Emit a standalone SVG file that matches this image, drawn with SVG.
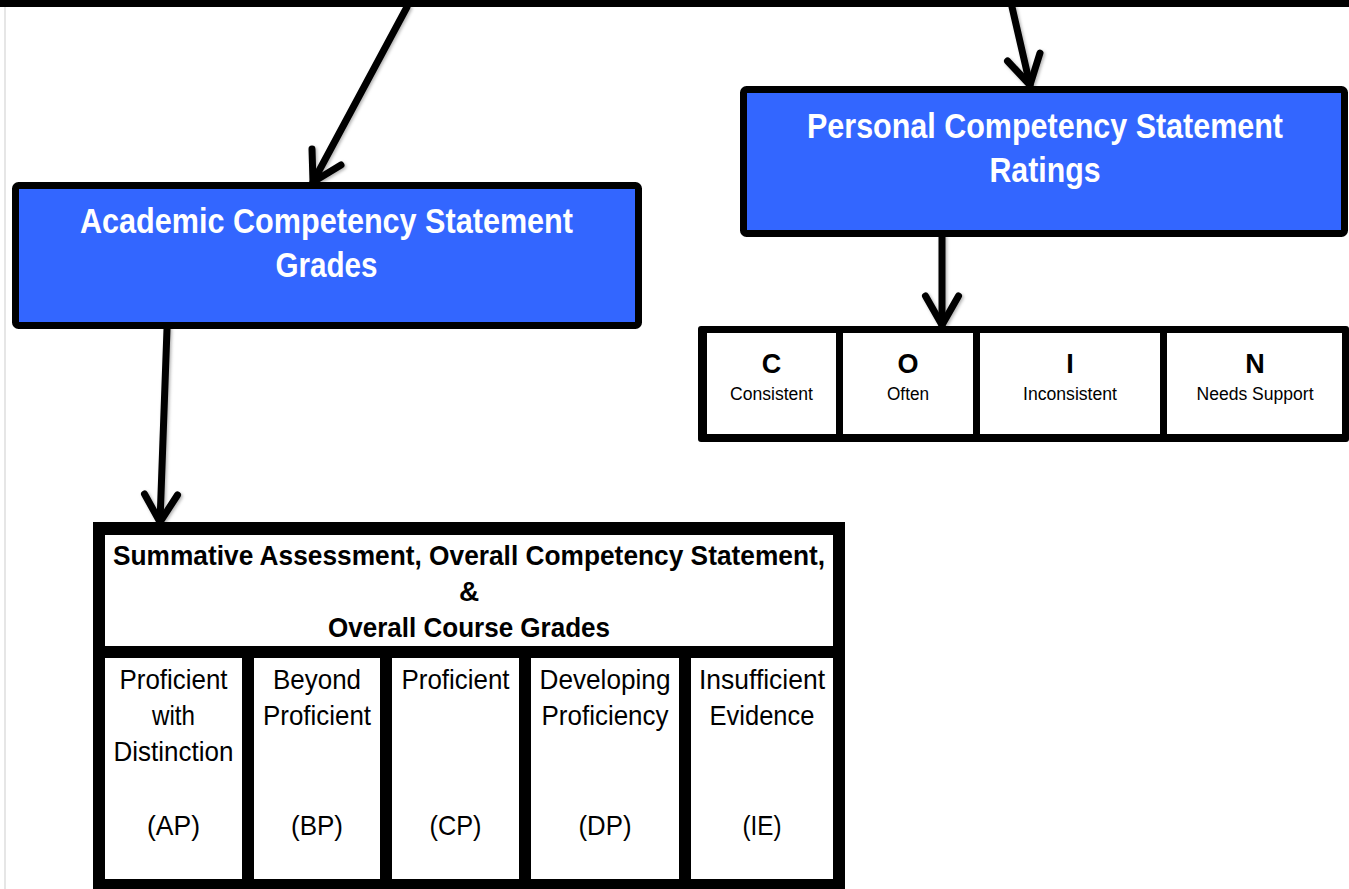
<svg xmlns="http://www.w3.org/2000/svg" width="1349" height="889" viewBox="0 0 1349 889">
<defs>
<style>
.t{font-family:"Liberation Sans",Arial,sans-serif;text-anchor:middle}
.ttl{font-size:35px;font-weight:bold;fill:#fff}
.hdr{font-size:28px;font-weight:bold;fill:#000}
.cell{font-size:28px;fill:#000}
.let{font-size:27px;font-weight:bold;fill:#000}
.sub{font-size:18px;fill:#000}
.blue{fill:#3366ff;stroke:#000;stroke-width:7}
.arr{fill:none;stroke:#000;stroke-width:7;stroke-linecap:round;stroke-linejoin:round}
</style>
<filter id="sh" x="-20%" y="-20%" width="140%" height="140%">
<feDropShadow dx="1.5" dy="1.5" stdDeviation="1.5" flood-color="#000" flood-opacity="0.3"/>
</filter>
</defs>
<rect width="1349" height="889" fill="#fff"/>
<line x1="5" y1="7" x2="5" y2="889" stroke="#e6e6e6" stroke-width="2"/>
<rect x="0" y="0" width="1349" height="7" fill="#000"/>

<g id="connectors" filter="url(#sh)">
<path class="arr" d="M407,7 L313,182"/>
<path class="arr" d="M312,149 L313,182 L341,165"/>
<path class="arr" d="M1012,7 L1030,85"/>
<path class="arr" d="M1007.5,61 L1030,85 L1040,53"/>
<path class="arr" d="M942,237 L942,325"/>
<path class="arr" d="M925.5,296 L942,325 L958.5,296"/>
<path class="arr" d="M167,329 L160,522"/>
<path class="arr" d="M144.5,494 L160,522 L177.5,495"/>
</g>

<g id="academic">
<rect class="blue" x="15.5" y="185.5" width="623" height="140" rx="3"/>
<text class="t ttl" x="326.5" y="233" textLength="493" lengthAdjust="spacingAndGlyphs">Academic Competency Statement</text>
<text class="t ttl" x="326.5" y="277" textLength="102" lengthAdjust="spacingAndGlyphs">Grades</text>
</g>

<g id="personal">
<rect class="blue" x="743.5" y="89.5" width="601" height="144" rx="3"/>
<text class="t ttl" x="1045" y="138" textLength="476" lengthAdjust="spacingAndGlyphs">Personal Competency Statement</text>
<text class="t ttl" x="1045" y="182" textLength="111" lengthAdjust="spacingAndGlyphs">Ratings</text>
</g>

<g id="ratings">
<rect x="698" y="326" width="651" height="116" rx="3" fill="#000"/>
<rect x="707" y="333" width="129" height="101" fill="#fff"/>
<rect x="843" y="333" width="130" height="101" fill="#fff"/>
<rect x="980" y="333" width="180" height="101" fill="#fff"/>
<rect x="1167" y="333" width="175" height="101" fill="#fff"/>
<text class="t let" x="771.5" y="373">C</text>
<text class="t sub" x="771.5" y="400" textLength="83" lengthAdjust="spacingAndGlyphs">Consistent</text>
<text class="t let" x="908" y="373">O</text>
<text class="t sub" x="908" y="400" textLength="42" lengthAdjust="spacingAndGlyphs">Often</text>
<text class="t let" x="1070" y="373">I</text>
<text class="t sub" x="1070" y="400" textLength="94" lengthAdjust="spacingAndGlyphs">Inconsistent</text>
<text class="t let" x="1255" y="373">N</text>
<text class="t sub" x="1255" y="400" textLength="117" lengthAdjust="spacingAndGlyphs">Needs Support</text>
</g>

<g id="grades">
<rect x="93" y="522" width="752" height="380" fill="#000"/>
<rect x="105" y="535" width="728" height="111" fill="#fff"/>
<rect x="105" y="658" width="137" height="221" fill="#fff"/>
<rect x="254" y="658" width="126" height="221" fill="#fff"/>
<rect x="392" y="658" width="127" height="221" fill="#fff"/>
<rect x="531" y="658" width="148" height="221" fill="#fff"/>
<rect x="691" y="658" width="142" height="221" fill="#fff"/>
<text class="t hdr" x="469" y="565" textLength="712" lengthAdjust="spacingAndGlyphs">Summative Assessment, Overall Competency Statement,</text>
<text class="t hdr" x="469" y="601">&amp;</text>
<text class="t hdr" x="469" y="637" textLength="282" lengthAdjust="spacingAndGlyphs">Overall Course Grades</text>

<text class="t cell" x="173.5" y="689" textLength="108" lengthAdjust="spacingAndGlyphs">Proficient</text>
<text class="t cell" x="173.5" y="725" textLength="43" lengthAdjust="spacingAndGlyphs">with</text>
<text class="t cell" x="173.5" y="761" textLength="120" lengthAdjust="spacingAndGlyphs">Distinction</text>
<text class="t cell" x="173.5" y="835" textLength="53" lengthAdjust="spacingAndGlyphs">(AP)</text>

<text class="t cell" x="317" y="689" textLength="88" lengthAdjust="spacingAndGlyphs">Beyond</text>
<text class="t cell" x="317" y="725" textLength="108" lengthAdjust="spacingAndGlyphs">Proficient</text>
<text class="t cell" x="317" y="835" textLength="52" lengthAdjust="spacingAndGlyphs">(BP)</text>

<text class="t cell" x="455.5" y="689" textLength="108" lengthAdjust="spacingAndGlyphs">Proficient</text>
<text class="t cell" x="455.5" y="835" textLength="52" lengthAdjust="spacingAndGlyphs">(CP)</text>

<text class="t cell" x="605" y="689" textLength="131" lengthAdjust="spacingAndGlyphs">Developing</text>
<text class="t cell" x="605" y="725" textLength="127" lengthAdjust="spacingAndGlyphs">Proficiency</text>
<text class="t cell" x="605" y="835" textLength="53" lengthAdjust="spacingAndGlyphs">(DP)</text>

<text class="t cell" x="762" y="689" textLength="126" lengthAdjust="spacingAndGlyphs">Insufficient</text>
<text class="t cell" x="762" y="725" textLength="105" lengthAdjust="spacingAndGlyphs">Evidence</text>
<text class="t cell" x="762" y="835" textLength="39" lengthAdjust="spacingAndGlyphs">(IE)</text>
</g>
</svg>
